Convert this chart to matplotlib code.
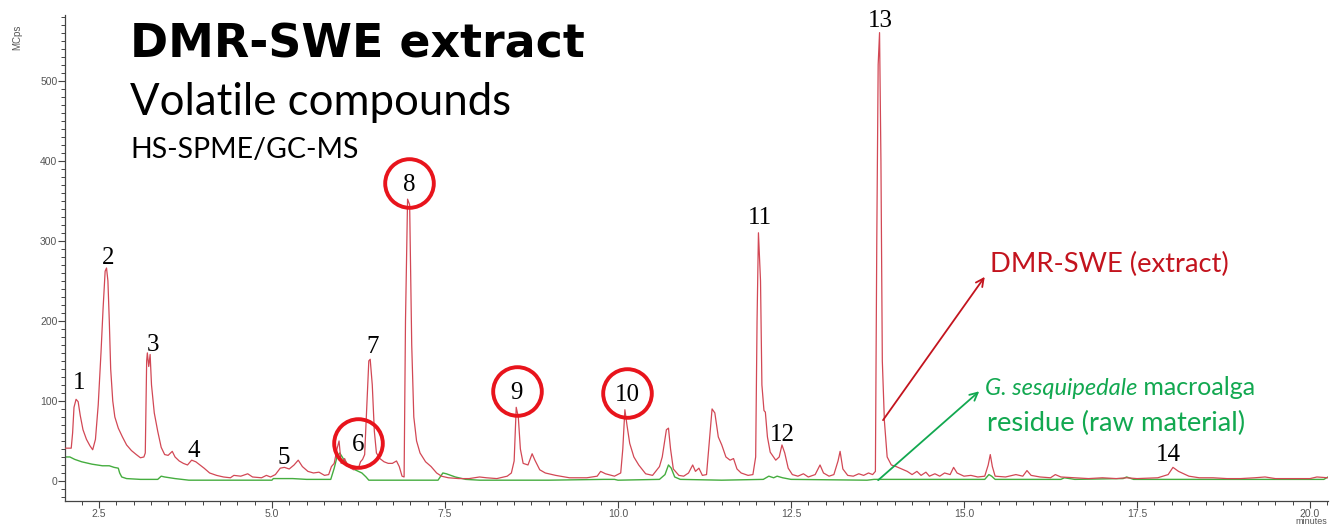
import numpy as np
import matplotlib
matplotlib.use("Agg")
import matplotlib.pyplot as plt
from matplotlib.ticker import MultipleLocator

# retention time (min) / intensity (MCps)
RED_T = [2.01, 2.10, 2.12, 2.14, 2.17, 2.20, 2.23, 2.27, 2.32, 2.37, 2.41, 2.45, 2.49, 2.53,
         2.56, 2.59, 2.61, 2.63, 2.65, 2.67, 2.70, 2.73, 2.78, 2.84, 2.90, 2.97, 3.04, 3.10,
         3.15, 3.17, 3.19, 3.20, 3.22, 3.24, 3.26, 3.30, 3.35, 3.40, 3.45, 3.50, 3.56, 3.60,
         3.66, 3.72, 3.78, 3.84, 3.90, 3.96, 4.02, 4.10, 4.20, 4.30, 4.40, 4.45, 4.55, 4.65,
         4.72, 4.85, 4.92, 4.98, 5.05, 5.12, 5.18, 5.25, 5.32, 5.38, 5.44, 5.52, 5.60, 5.68,
         5.76, 5.82, 5.86, 5.90, 5.94, 5.97, 6.00, 6.05, 6.10, 6.18, 6.25, 6.28, 6.31, 6.34,
         6.37, 6.40, 6.42, 6.45, 6.48, 6.51, 6.56, 6.62, 6.68, 6.74, 6.80, 6.84, 6.88, 6.91,
         6.93, 6.96, 6.99, 7.02, 7.05, 7.09, 7.14, 7.22, 7.30, 7.38, 7.45, 7.55, 7.70, 7.85,
         8.00, 8.10, 8.25, 8.40, 8.46, 8.50, 8.53, 8.56, 8.59, 8.63, 8.70, 8.76, 8.80, 8.87,
         8.95, 9.10, 9.30, 9.55, 9.70, 9.75, 9.82, 9.95, 10.04, 10.07, 10.10, 10.13, 10.17,
         10.23, 10.30, 10.40, 10.50, 10.60, 10.64, 10.70, 10.73, 10.76, 10.80, 10.88, 10.95,
         11.02, 11.08, 11.12, 11.17, 11.22, 11.28, 11.33, 11.36, 11.40, 11.45, 11.50, 11.56,
         11.62, 11.67, 11.72, 11.78, 11.88, 11.95, 11.99, 12.01, 12.03, 12.06, 12.08, 12.11,
         12.13, 12.16, 12.20, 12.28, 12.33, 12.37, 12.41, 12.46, 12.52, 12.60, 12.68, 12.75,
         12.85, 12.92, 12.97, 13.05, 13.12, 13.18, 13.21, 13.25, 13.32, 13.40, 13.48, 13.55,
         13.62, 13.68, 13.72, 13.74, 13.76, 13.78, 13.80, 13.82, 13.85, 13.89, 13.95, 14.02,
         14.10, 14.18, 14.25, 14.32, 14.38, 14.45, 14.50, 14.58, 14.65, 14.72, 14.80, 14.85,
         14.90, 15.00, 15.10, 15.20, 15.30, 15.35, 15.38, 15.41, 15.45, 15.60, 15.75, 15.85,
         15.91, 15.97, 16.10, 16.25, 16.32, 16.40, 16.60, 16.80, 17.00, 17.20, 17.35, 17.50,
         17.80, 17.95, 18.02, 18.10, 18.25, 18.40, 18.60, 18.80, 19.00, 19.20, 19.35, 19.50,
         19.80, 20.00, 20.10, 20.26]
RED_I = [41, 41, 60, 92, 102, 99, 82, 64, 52, 44, 39, 52, 95, 160,
         215, 262, 266, 250, 200, 140, 100, 80, 66, 55, 45, 38, 33, 29,
         30, 35, 150, 160, 143, 158, 120, 85, 62, 42, 33, 32, 37, 30,
         25, 22, 20, 26, 24, 20, 16, 10, 7, 5, 4, 7, 6, 9,
         5, 4, 7, 5, 8, 16, 17, 15, 20, 26, 18, 12, 10, 11,
         7, 8, 18, 22, 40, 50, 22, 28, 18, 14, 16, 24, 27, 33,
         90, 150, 152, 120, 62, 35, 28, 24, 22, 22, 25, 18, 6, 5,
         200, 352, 345, 170, 80, 50, 35, 24, 18, 10, 6, 4, 3, 3,
         5, 4, 3, 6, 10, 25, 92, 80, 40, 22, 20, 34, 26, 14,
         10, 7, 4, 4, 6, 12, 9, 6, 10, 40, 89, 70, 47,
         30, 20, 9, 7, 18, 30, 64, 66, 40, 15, 7, 6,
         10, 20, 12, 16, 7, 8, 60, 90, 85, 55, 45, 30,
         26, 28, 15, 10, 7, 8, 30, 200, 310, 250, 120, 88,
         86, 55, 36, 26, 30, 45, 35, 16, 8, 6, 9, 5,
         8, 20, 10, 6, 8, 25, 37, 15, 7, 6, 9, 7,
         10, 8, 12, 300, 520, 560, 400, 150, 75, 30, 20, 18,
         15, 12, 8, 12, 7, 11, 6, 9, 6, 10, 8, 17,
         10, 6, 7, 5, 6, 20, 33, 18, 6, 5, 8, 6,
         13, 7, 5, 4, 8, 5, 4, 3, 4, 3, 4, 3,
         4, 8, 17, 12, 6, 4, 4, 3, 3, 4, 5, 3,
         3, 3, 5, 4]

GREEN_T = [2.01, 2.08, 2.15, 2.25, 2.40, 2.55, 2.65, 2.72, 2.78, 2.80, 2.83, 2.90, 3.10,
           3.35, 3.40, 3.45, 3.60, 3.80, 4.50, 5.00, 5.02, 5.30, 5.50, 5.85, 5.90, 5.94,
           5.98, 6.03, 6.10, 6.20, 6.30, 6.36, 6.40, 7.00, 7.40, 7.47, 7.52, 7.65, 7.80,
           8.00, 9.00, 9.80, 9.95, 10.00, 10.60, 10.68, 10.73, 10.77, 10.82, 10.90, 11.50,
           12.10, 12.18, 12.25, 12.30, 12.38, 12.50, 13.60, 13.70, 15.30, 15.36, 15.40,
           15.45, 16.40, 16.45, 16.60, 17.30, 17.35, 17.45, 20.20, 20.26]
GREEN_I = [30, 30, 27, 24, 21, 19, 19, 17, 16, 10, 5, 3, 2,
           2, 6, 5, 3, 1, 1, 1, 3, 3, 2, 2, 16, 30,
           35, 28, 20, 14, 10, 5, 1, 1, 1, 10, 9, 5, 2,
           1, 1, 2, 2, 1, 2, 8, 20, 16, 5, 2, 1,
           2, 6, 4, 6, 4, 2, 1, 2, 2, 8, 6,
           2, 2, 4, 2, 3, 5, 2, 2, 5]

# numbered compounds: label position (min, MCps)
PEAK_NUM = ["1", "2", "3", "4", "5", "6", "7", "8", "9", "10", "11", "12", "13", "14"]
PEAK_T = [2.21, 2.63, 3.28, 3.87, 5.17, 6.24, 6.45, 6.98, 8.54, 10.13, 12.05, 12.37, 13.79, 17.95]
PEAK_Y = [122, 279, 170, 37, 29, 45, 167, 370, 110, 108, 329, 58, 575, 32]
CIRCLED = ["6", "8", "9", "10"]

RED_LINE = "#d24855"
GREEN_LINE = "#45ad3f"
RED_TXT = "#c3141e"
GREEN_TXT = "#12a850"
RING = "#e8141c"
AXIS_GREY = "#555555"

fig = plt.figure(figsize=(13.3, 5.26), dpi=100)
ax = fig.add_axes([65 / 1330, 1 - 501 / 526, 1263 / 1330, 486 / 526])

ax.plot(GREEN_T, GREEN_I, color=GREEN_LINE, lw=1.0, zorder=2)
ax.plot(RED_T, RED_I, color=RED_LINE, lw=0.9, zorder=3)

ax.set_xlim(2.01, 20.26)
ax.set_ylim(-25, 582)
for s in ("top", "right"):
    ax.spines[s].set_visible(False)
for s in ("left", "bottom"):
    ax.spines[s].set_color("#444444")
    ax.spines[s].set_linewidth(0.9)

xt = np.arange(2.5, 20.1, 2.5)
ax.set_xticks(xt)
ax.set_xticklabels([f"{v:.1f}" for v in xt])
ax.xaxis.set_minor_locator(MultipleLocator(0.25))
ax.set_yticks(np.arange(0, 501, 100))
ax.yaxis.set_minor_locator(MultipleLocator(10))
ax.tick_params(which="major", length=5, width=0.8, color="#444444",
               labelsize=7.5, labelcolor=AXIS_GREY, pad=0.5)
ax.tick_params(which="minor", length=3, width=0.7, color="#444444")
for lab in ax.get_xticklabels() + ax.get_yticklabels():
    lab.set_fontfamily("Liberation Sans")

fig.text(17 / 1330, 1 - 37 / 526, "MCps", rotation=90, ha="center", va="center",
         fontsize=7, color=AXIS_GREY, family="Liberation Sans")
fig.text(1311 / 1330, 1 - 525.5 / 526, "minutes", ha="center", va="bottom",
         fontsize=6.5, color=AXIS_GREY, family="Liberation Sans")

# peak numbers, the ones of interest get a red ring
for num, t, y in zip(PEAK_NUM, PEAK_T, PEAK_Y):
    ax.text(t, y, num, ha="center", va="center", fontsize=18,
            family="Liberation Serif", color="black", zorder=5)
    if num in CIRCLED:
        ax.plot(t, y + 2, marker="o", ms=35, mfc="none", mec=RING, mew=2.8,
                zorder=6, clip_on=False)

# headings
fig.text(130 / 1330, 1 - 57 / 526, "DMR-SWE extract", family="DejaVu Sans",
         fontweight="bold", fontsize=33, va="baseline")
fig.text(130 / 1330, 1 - 115 / 526, "Volatile compounds", family="Lato",
         fontsize=31.5, va="baseline")
fig.text(130 / 1330, 1 - 158 / 526, "HS-SPME/GC-MS", family="Lato",
         fontsize=20.5, va="baseline")

# trace legends with arrows
ax.annotate("", xy=(15.30, 255), xytext=(13.83, 76),
            arrowprops=dict(arrowstyle="->", color=RED_TXT, lw=1.3,
                            mutation_scale=14, shrinkA=0, shrinkB=0))
ax.text(15.37, 270, "DMR-SWE (extract)", color=RED_TXT, family="Lato",
        fontsize=19.7, va="center", ha="left")

ax.annotate("", xy=(15.22, 112), xytext=(13.76, 1),
            arrowprops=dict(arrowstyle="->", color=GREEN_TXT, lw=1.3,
                            mutation_scale=14, shrinkA=0, shrinkB=0))
g1 = ax.text(15.30, 103, "G. sesquipedale", color=GREEN_TXT, family="Lato",
             fontsize=17, style="italic", va="bottom", ha="left")
ax.annotate(" macroalga", xy=(1, 0), xycoords=g1, color=GREEN_TXT,
            family="Lato", fontsize=18, va="bottom", ha="left")
ax.text(15.33, 72, "residue (raw material)", color=GREEN_TXT, family="Lato",
        fontsize=19.7, va="center", ha="left")

fig.savefig("out.png", dpi=100, facecolor="white")
